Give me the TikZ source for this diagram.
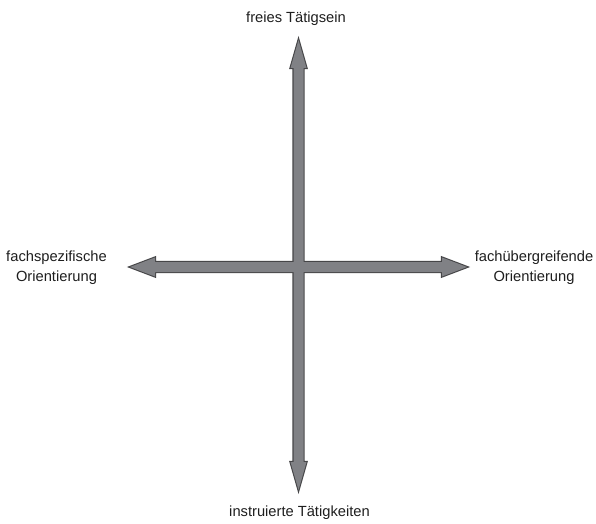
\documentclass[tikz,border=0pt]{standalone}
\usepackage{fontspec}
\setmainfont{Liberation Sans}
\usepackage{xcolor}
\usepackage{tikz}
\usetikzlibrary{calc}
\definecolor{ArrowFill}{RGB}{128, 129, 133}
\definecolor{ArrowLine}{RGB}{70, 70, 72}
\definecolor{LabelText}{RGB}{30, 30, 30}

\begin{document}
\begin{tikzpicture}[x=1pt, y=1pt,
    label/.style={text=LabelText, align=center, anchor=base, inner sep=0pt,
        font=\fontsize{14.7}{20}\selectfont},
    arrowline/.style={draw=ArrowLine, line width=2.2pt, line join=miter},
    arrowbody/.style={fill=ArrowFill}]
    \useasboundingbox (0,0) rectangle (596,523);

    % Umrisse beider Pfeile (zuerst, damit die Kreuzung offen bleibt)
    \foreach \s in {arrowline, arrowbody} {
        \path[\s] (130,256) -- (155,265.5) -- (155,261) -- (442,261) -- (442,265.5)
            -- (467,256) -- (442,246.5) -- (442,251) -- (155,251) -- (155,246.5) -- cycle;
        \path[\s] (298.5,483) -- (306.5,455) -- (303.5,455) -- (303.5,61) -- (306.5,61)
            -- (298.5,33) -- (290.5,61) -- (293.5,61) -- (293.5,455) -- (290.5,455) -- cycle;
    }

    % Beschriftungen
    \node[label] (frei) at (296,500) {freies Tätigsein};
    \node[label] (instr) at (299.5,7) {instruierte Tätigkeiten};
    \node[label] (fachsp) at (56.5,242) {fachspezifische\\Orientierung};
    \node[label] (fachueb) at (534,242) {fachübergreifende\\Orientierung};
\end{tikzpicture}
\end{document}
